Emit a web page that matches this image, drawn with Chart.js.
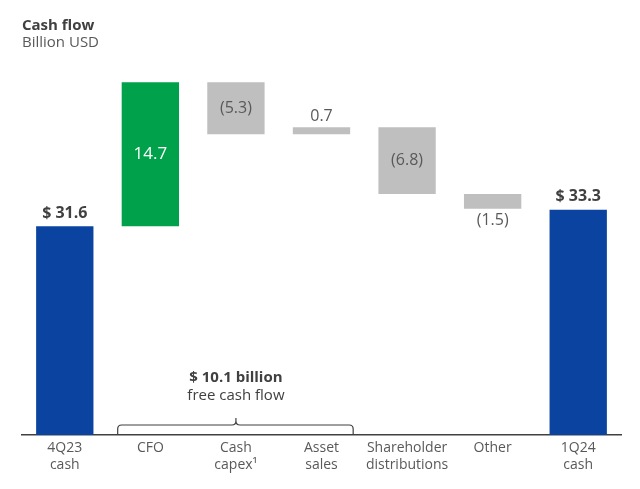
<!DOCTYPE html>
<html>
<head>
<meta charset="utf-8">
<script src="https://cdn.jsdelivr.net/npm/chart.js@4/dist/chart.umd.min.js"></script>
<style>
  html, body { margin: 0; padding: 0; background: #ffffff; }
  canvas { display: block; }
</style>
</head>
<body>
<canvas id="c" width="640" height="489"></canvas>
<script>
// ---- data ----
const categories = [["4Q23", "cash"], ["CFO"], ["Cash", "capex\u00B9"], ["Asset", "sales"], ["Shareholder", "distributions"], ["Other"], ["1Q24", "cash"]];
const values = [31.6, 14.7, -5.3, 0.7, -6.8, -1.5, 33.3];
const kinds = ["total", "up", "down", "up", "down", "down", "total"];
const valueLabels = ["$ 31.6", "14.7", "(5.3)", "0.7", "(6.8)", "(1.5)", "$ 33.3"];
const titleText = "Cash flow";
const subtitleText = "Billion USD";
const bracketLines = ["$ 10.1 billion", "free cash flow"];
const bracketFrom = 1, bracketTo = 3;

// ---- build floating bars ----
const ranges = [];
let running = 0;
values.forEach((v, i) => {
  if (kinds[i] === "total") { ranges.push([0, v]); running = v; }
  else { ranges.push([running, running + v]); running += v; }
});
const colorFor = k => k === "total" ? "#0B44A0" : (k === "up" && false ? "#00A14B" : "#BFBFBF");
const colors = kinds.map((k, i) => k === "total" ? "#0B44A0" : (i === 1 ? "#00A14B" : "#BFBFBF"));

const FONT = "'Open Sans', 'Noto Sans', sans-serif";

const annot = {
  id: "annot",
  afterDatasetsDraw(chart) {
    const ctx = chart.ctx;
    const meta = chart.getDatasetMeta(0);
    ctx.save();
    // titles
    ctx.textAlign = "left";
    ctx.textBaseline = "middle";
    ctx.fillStyle = "#404040";
    ctx.font = "bold 15px " + FONT;
    ctx.fillText(titleText, 22, 26);
    ctx.fillStyle = "#595959";
    ctx.font = "15px " + FONT;
    ctx.fillText(subtitleText, 22, 43);

    // value labels
    ctx.textAlign = "center";
    meta.data.forEach((bar, i) => {
      const top = Math.min(bar.y, bar.base);
      const bottom = Math.max(bar.y, bar.base);
      const k = kinds[i];
      if (k === "total") {
        ctx.font = "bold 16px " + FONT;
        ctx.fillStyle = "#404040";
        ctx.fillText(valueLabels[i], bar.x, top - 13);
      } else if (i === 1) {
        ctx.font = "17px " + FONT;
        ctx.fillStyle = "#ffffff";
        ctx.fillText(valueLabels[i], bar.x, (top + bottom) / 2);
      } else if (bottom - top > 30) {
        ctx.font = "16px " + FONT;
        ctx.fillStyle = "#595959";
        ctx.fillText(valueLabels[i], bar.x, (top + bottom) / 2);
      } else if (values[i] > 0) {
        ctx.font = "16px " + FONT;
        ctx.fillStyle = "#595959";
        ctx.fillText(valueLabels[i], bar.x, top - 11);
      } else {
        ctx.font = "16px " + FONT;
        ctx.fillStyle = "#595959";
        ctx.fillText(valueLabels[i], bar.x, bottom + 12);
      }
    });

    // bracket
    const b0 = meta.data[bracketFrom], b1 = meta.data[bracketTo];
    const left = b0.x - b0.width / 2 - 4;
    const right = b1.x + b1.width / 2 + 3;
    const mid = meta.data[Math.round((bracketFrom + bracketTo) / 2)].x;
    const yb = chart.chartArea.bottom;
    const yt = yb - 10;
    const r = 4;
    ctx.strokeStyle = "#404040";
    ctx.lineWidth = 1.2;
    ctx.beginPath();
    ctx.moveTo(left, yb);
    ctx.lineTo(left, yt + r);
    ctx.quadraticCurveTo(left, yt, left + r, yt);
    ctx.lineTo(mid - r, yt);
    ctx.quadraticCurveTo(mid, yt, mid, yt - r);
    ctx.lineTo(mid, yt - 7);
    ctx.moveTo(mid, yt - r);
    ctx.quadraticCurveTo(mid, yt, mid + r, yt);
    ctx.lineTo(right - r, yt);
    ctx.quadraticCurveTo(right, yt, right, yt + r);
    ctx.lineTo(right, yb);
    ctx.stroke();

    ctx.fillStyle = "#404040";
    ctx.font = "bold 15px " + FONT;
    ctx.fillText(bracketLines[0], mid, 378);
    ctx.font = "15px " + FONT;
    ctx.fillText(bracketLines[1], mid, 396);
    ctx.restore();
  }
};

new Chart(document.getElementById("c"), {
  type: "bar",
  data: {
    labels: categories,
    datasets: [{
      data: ranges,
      backgroundColor: colors,
      borderWidth: 0,
      categoryPercentage: 1.0,
      barPercentage: 0.67
    }]
  },
  options: {
    responsive: false,
    animation: false,
    devicePixelRatio: 1,
    layout: { padding: { left: 22, right: 19, top: 46, bottom: 0 } },
    plugins: { legend: { display: false }, tooltip: { enabled: false } },
    scales: {
      x: {
        grid: { display: false, drawTicks: false },
        border: { display: true, color: "#404040", width: 1.5 },
        ticks: { color: "#595959", font: { family: FONT, size: 14 }, padding: 5, maxRotation: 0, autoSkip: false },
        afterFit(scale) { scale.height = 54; }
      },
      y: {
        display: false,
        min: 10.3,
        max: 50
      }
    }
  },
  plugins: [annot]
});
</script>
</body>
</html>
